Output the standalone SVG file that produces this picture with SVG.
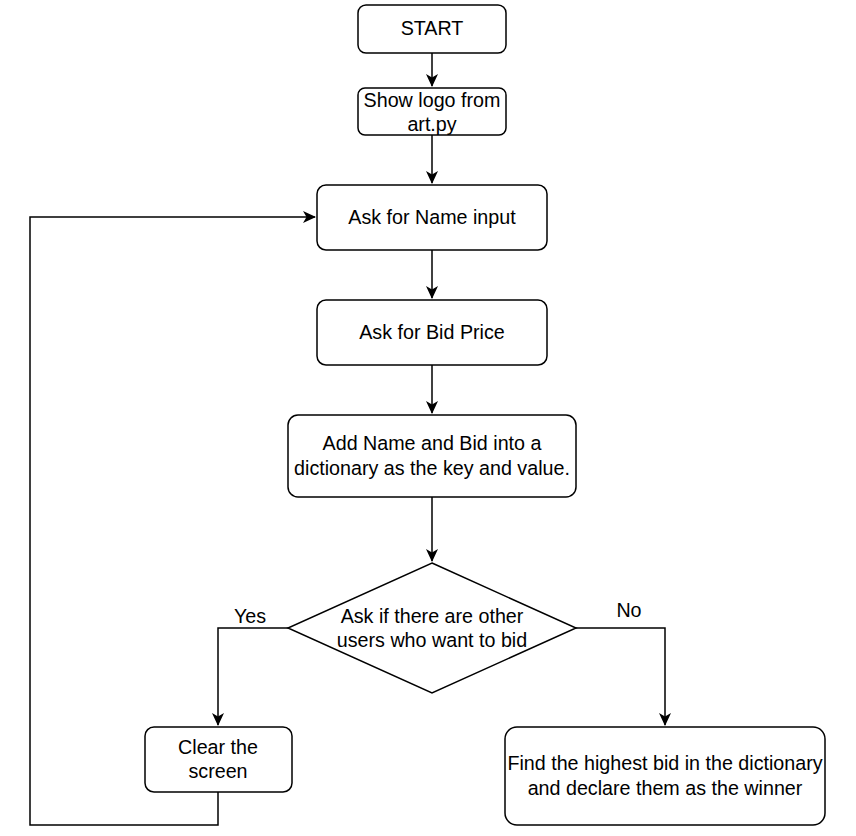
<svg xmlns="http://www.w3.org/2000/svg" width="856" height="836" viewBox="0 0 856 836">
<style>
.box{fill:#fff;stroke:#000;stroke-width:1.5}
.edge{fill:none;stroke:#000;stroke-width:1.5}
text{font-family:"Liberation Sans",Arial,sans-serif;font-size:19.7px;fill:#000;text-anchor:middle}
</style>
<defs>
<marker id="arr" markerWidth="14" markerHeight="14" viewBox="0 0 14 14" refX="12" refY="7" orient="auto" markerUnits="userSpaceOnUse">
<path d="M0,1 L13,7 L0,13 L3.5,7 Z" fill="#000"/>
</marker>
</defs>
<rect width="856" height="836" fill="#fff"/>
<g id="connectors">
<path class="edge" d="M432,53 V86" marker-end="url(#arr)"/>
<path class="edge" d="M432,135 V183" marker-end="url(#arr)"/>
<path class="edge" d="M432,250 V298" marker-end="url(#arr)"/>
<path class="edge" d="M432,365 V413" marker-end="url(#arr)"/>
<path class="edge" d="M432,497 V561" marker-end="url(#arr)"/>
<path class="edge" d="M288,628 H218 V725" marker-end="url(#arr)"/>
<path class="edge" d="M576,628 H665 V725" marker-end="url(#arr)"/>
<path class="edge" d="M218,792 V825 H30 V217 H315" marker-end="url(#arr)"/>
<text x="250" y="623">Yes</text>
<text x="629" y="617">No</text>
</g>
<g id="start">
<rect class="box" x="358" y="5" width="148" height="48" rx="8"/>
<text x="432" y="35">START</text>
</g>
<g id="logo">
<rect class="box" x="358" y="88" width="148" height="47" rx="7"/>
<text x="432" y="107">Show logo from</text>
<text x="432" y="131">art.py</text>
</g>
<g id="askName">
<rect class="box" x="317" y="185" width="230" height="65" rx="9"/>
<text x="432" y="224">Ask for Name input</text>
</g>
<g id="askBid">
<rect class="box" x="317" y="300" width="230" height="65" rx="9"/>
<text x="432" y="339">Ask for Bid Price</text>
</g>
<g id="addDict">
<rect class="box" x="288" y="415" width="288" height="82" rx="10"/>
<text x="432" y="450">Add Name and Bid into a</text>
<text x="432" y="475">dictionary as the key and value.</text>
</g>
<g id="decision">
<polygon class="box" points="432,563 576,628 432,693 288,628"/>
<text x="432" y="623">Ask if there are other</text>
<text x="432" y="647">users who want to bid</text>
</g>
<g id="clear">
<rect class="box" x="145" y="727" width="147" height="65" rx="9"/>
<text x="218" y="754">Clear the</text>
<text x="218" y="778">screen</text>
</g>
<g id="winner">
<rect class="box" x="505" y="727" width="320" height="98" rx="12"/>
<text x="665" y="770">Find the highest bid in the dictionary</text>
<text x="665" y="795">and declare them as the winner</text>
</g>
</svg>
